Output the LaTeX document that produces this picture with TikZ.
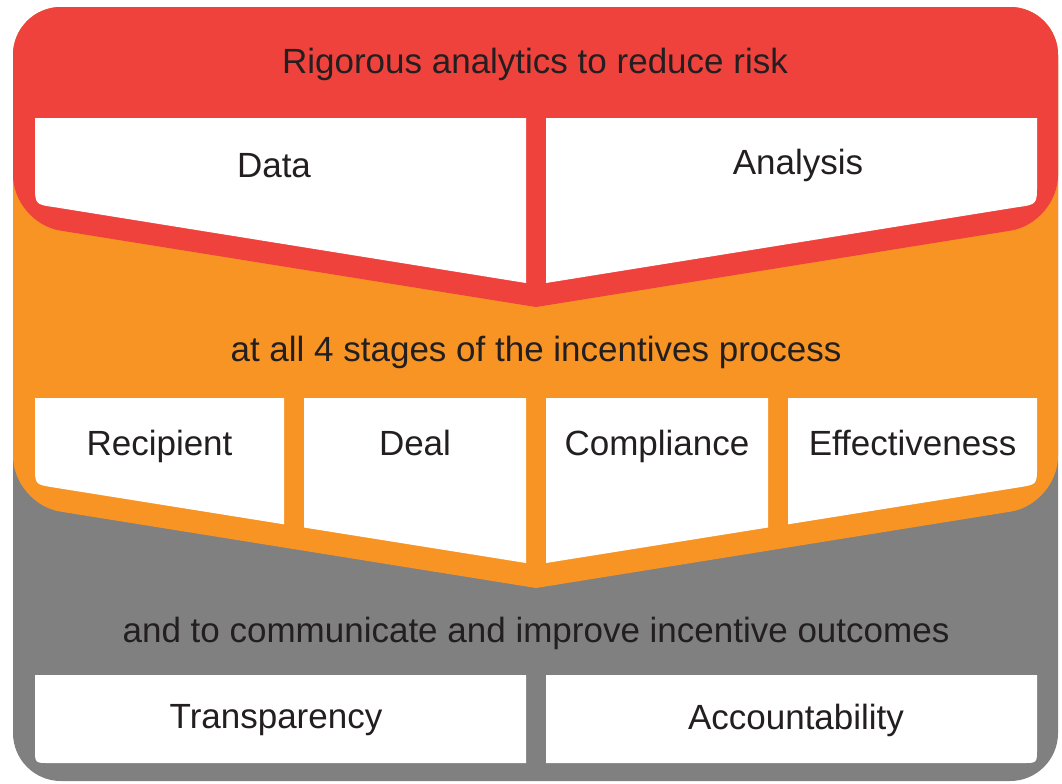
\documentclass[tikz,border=0pt]{standalone}
\usepackage{fontspec}
\setmainfont{Liberation Sans}
\definecolor{riskred}{RGB}{239,66,60}
\definecolor{stageorange}{RGB}{247,148,35}
\definecolor{outgray}{RGB}{128,128,128}
\definecolor{txtdark}{RGB}{35,31,32}

\begin{document}
\begin{tikzpicture}[x=0.75pt,y=0.75pt,yscale=-1,xscale=1,
  lbl/.style={font=\fontsize{26.25}{30}\selectfont, text=txtdark, anchor=base, inner sep=0pt}]

\fill[white] (0,0) rectangle (1062,783);
\useasboundingbox (0,0) rectangle (1062,783);

% gray base
\fill[outgray, rounded corners=36] (13,7) rectangle (1058,781);

% orange chevron
\fill[stageorange, rounded corners=36] (536,588) -- (13,504) -- (13,7) -- (1058,7) -- (1058,504) -- (536,588);

% red chevron
\fill[riskred, rounded corners=36] (536,307) -- (13,223) -- (13,7) -- (1058,7) -- (1058,223) -- (536,307);

% white boxes, red band
\fill[white] (35,118) -- (526,118) -- (526,283) -- (54.7,207.2) .. controls (35,204.4) .. (35,184.4) -- cycle;
\fill[white] (546,118) -- (1037,118) -- (1037,184.4) .. controls (1037,204.4) .. (1017.3,207.2) -- (546,283) -- cycle;

% white boxes, orange band
\fill[white] (35,398) -- (284,398) -- (284,524.3) -- (52.8,487.3) .. controls (35,484.4) .. (35,466.4) -- cycle;
\fill[white] (304,398) -- (526,398) -- (526,563) -- (304,527.5) -- cycle;
\fill[white] (546,398) -- (768,398) -- (768,527.5) -- (546,563) -- cycle;
\fill[white] (788,398) -- (1037,398) -- (1037,466.4) .. controls (1037,484.4) .. (1019.2,487.3) -- (788,524.3) -- cycle;

% white boxes, gray band
\fill[white] (35,675) -- (526,675) -- (526,763) -- (49,763) .. controls (35,763) .. (35,749) -- cycle;
\fill[white] (546,675) -- (1037,675) -- (1037,749) .. controls (1037,763) .. (1023,763) -- (546,763) -- cycle;

\node[lbl] (risk) at (535,73) {Rigorous analytics to reduce risk};
\node[lbl] (data) at (274,177) {Data};
\node[lbl] (analysis) at (798,174) {Analysis};

\node[lbl] (stages) at (536,361) {at all 4 stages of the incentives process};
\node[lbl] (recipient) at (159.5,455) {Recipient};
\node[lbl] (deal) at (415,455) {Deal};
\node[lbl] (compliance) at (657,455) {Compliance};
\node[lbl] (effect) at (912.5,455) {Effectiveness};

\node[lbl] (outcomes) at (536,642) {and to communicate and improve incentive outcomes};
\node[lbl] (transp) at (276,728) {Transparency};
\node[lbl] (account) at (796,729) {Accountability};

\end{tikzpicture}
\end{document}
